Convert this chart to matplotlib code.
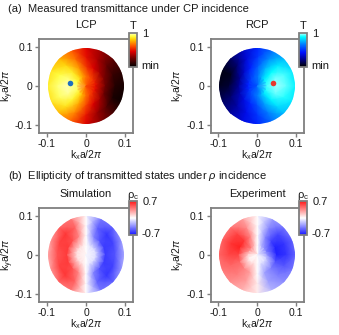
import numpy as np
import matplotlib
matplotlib.use("Agg")
import matplotlib.pyplot as plt
from matplotlib.colors import LinearSegmentedColormap
from matplotlib.patches import Circle

plt.rcParams['font.family'] = ['Liberation Sans', 'DejaVu Sans']
plt.rcParams['mathtext.fontset'] = 'custom'
plt.rcParams['mathtext.rm'] = 'Liberation Sans'
plt.rcParams['mathtext.it'] = 'Liberation Sans:italic'

# ---------------- data ----------------
angles_deg = [0, 22.5, 45, 67.5, 90, 112.5, 135, 157.5, 180,
              202.5, 225, 247.5, 270, 292.5, 315, 337.5]
radii = [0.0, 0.025, 0.05, 0.075, 0.1]

# normalised transmittance (0 = min, 1 = max), rows = radii, cols = angles
lcp_T = [
    [0.62] * 16,
    [0.48, 0.50, 0.55, 0.60, 0.66, 0.74, 0.84, 0.90, 0.93, 0.92, 0.86, 0.76, 0.66, 0.58, 0.52, 0.48],
    [0.24, 0.27, 0.34, 0.44, 0.55, 0.72, 0.86, 0.94, 0.98, 0.96, 0.88, 0.74, 0.58, 0.44, 0.34, 0.24],
    [0.08, 0.12, 0.22, 0.36, 0.48, 0.66, 0.82, 0.90, 0.93, 0.92, 0.84, 0.68, 0.49, 0.33, 0.18, 0.06],
    [0.05, 0.10, 0.20, 0.33, 0.45, 0.62, 0.76, 0.84, 0.86, 0.84, 0.76, 0.62, 0.44, 0.29, 0.15, 0.03],
]
rcp_T = [
    [0.60] * 16,
    [0.92, 0.90, 0.84, 0.74, 0.64, 0.58, 0.52, 0.47, 0.45, 0.48, 0.54, 0.60, 0.66, 0.74, 0.84, 0.90],
    [0.97, 0.95, 0.88, 0.74, 0.58, 0.45, 0.32, 0.22, 0.22, 0.28, 0.36, 0.46, 0.56, 0.72, 0.86, 0.94],
    [0.93, 0.92, 0.84, 0.68, 0.50, 0.35, 0.17, 0.05, 0.08, 0.17, 0.26, 0.38, 0.50, 0.66, 0.82, 0.90],
    [0.86, 0.84, 0.76, 0.62, 0.46, 0.31, 0.14, 0.03, 0.05, 0.14, 0.24, 0.36, 0.46, 0.62, 0.76, 0.84],
]
sim_rho = [
    [0.0] * 16,
    [-0.10, -0.10, -0.10, -0.08, 0.0, 0.08, 0.10, 0.10, 0.10, 0.10, 0.10, 0.08, 0.0, -0.08, -0.10, -0.10],
    [-0.58, -0.58, -0.52, -0.36, 0.0, 0.36, 0.52, 0.58, 0.58, 0.58, 0.52, 0.36, 0.0, -0.36, -0.52, -0.58],
    [-0.50, -0.56, -0.60, -0.46, 0.0, 0.46, 0.60, 0.56, 0.50, 0.56, 0.60, 0.46, 0.0, -0.46, -0.60, -0.56],
    [-0.22, -0.28, -0.45, -0.40, 0.0, 0.40, 0.45, 0.28, 0.22, 0.28, 0.45, 0.40, 0.0, -0.40, -0.45, -0.28],
]
exp_rho = [
    [0.0] * 16,
    [-0.30, -0.38, -0.32, -0.22, 0.0, 0.22, 0.38, 0.32, 0.15, 0.05, 0.05, 0.10, 0.0, -0.10, -0.10, -0.15],
    [-0.66, -0.66, -0.56, -0.34, 0.0, 0.38, 0.60, 0.66, 0.56, 0.45, 0.38, 0.28, 0.0, -0.28, -0.38, -0.50],
    [-0.60, -0.60, -0.55, -0.34, 0.0, 0.34, 0.56, 0.60, 0.55, 0.45, 0.38, 0.28, 0.05, -0.28, -0.38, -0.50],
    [-0.45, -0.45, -0.40, -0.28, 0.0, 0.28, 0.40, 0.45, 0.45, 0.40, 0.33, 0.22, 0.05, -0.22, -0.33, -0.40],
]
lcp_dot = (-0.04, 0.008)
rcp_dot = (0.04, 0.008)
ticks = [-0.1, 0.0, 0.1]
tick_labels = ['-0.1', '0', '0.1']

# ---------------- colormaps ----------------
cmap_lcp = LinearSegmentedColormap.from_list('lcp', [
    (0.0, '#000000'), (0.25, '#700000'), (0.45, '#e00000'), (0.62, '#ff5a00'),
    (0.8, '#ffcc00'), (0.9, '#ffff40'), (1.0, '#ffffd0')])
cmap_rcp = LinearSegmentedColormap.from_list('rcp', [
    (0.0, '#000000'), (0.22, '#000090'), (0.42, '#0010ff'), (0.65, '#0078ff'),
    (0.88, '#00ffff'), (1.0, '#d0ffff')])
cmap_rho = LinearSegmentedColormap.from_list('rho', ['#1414ff', '#ffffff', '#ff1414'])

GRAY = '#7f7f7f'
TXT = '#1a1a1a'

W, H = 339, 335
fig = plt.figure(figsize=(W / 100, H / 100), dpi=100)


def fr(x0, y0, x1, y1):
    return [x0 / W, 1 - y1 / H, (x1 - x0) / W, (y1 - y0) / H]


def polar_map(ax, values, cmap, vmin, vmax):
    th = np.deg2rad(np.append(angles_deg, 360.0))
    R, T = np.meshgrid(radii, th, indexing='ij')
    C = np.array(values, dtype=float)
    C = np.hstack([C, C[:, :1]])
    X = R * np.cos(T)
    Y = R * np.sin(T)
    m = ax.pcolormesh(X, Y, C, shading='gouraud', cmap=cmap, vmin=vmin, vmax=vmax)
    step = np.deg2rad(angles_deg[1] - angles_deg[0])
    clip = Circle((0, 0), radii[-1] * np.cos(step / 2), transform=ax.transData)
    m.set_clip_path(clip)
    return m


def style_axes(ax, title):
    ax.set_xlim(-0.12, 0.12)
    ax.set_ylim(-0.12, 0.12)
    ax.set_aspect('auto')
    ax.set_xticks(ticks)
    ax.set_yticks(ticks)
    ax.set_xticklabels(tick_labels)
    ax.set_yticklabels(tick_labels)
    for s in ax.spines.values():
        s.set_color(GRAY)
        s.set_linewidth(1.3)
    ax.tick_params(direction='out', length=3, width=1.0, color=GRAY,
                   labelsize=7.5, labelcolor=TXT, pad=1.5)
    ax.set_xlabel(r'k$_\mathrm{x}$a/2$\pi$', fontsize=7.5, color=TXT)
    ax.set_ylabel(r'k$_\mathrm{y}$a/2$\pi$', fontsize=7.5, color=TXT)
    ax.xaxis.set_label_coords(0.5, -0.165)
    ax.yaxis.set_label_coords(-0.25, 0.5)
    ax.set_title(title, fontsize=8, color=TXT, pad=8)


def colorbar(mappable, rect, top_label, hi, lo):
    cax = fig.add_axes(rect)
    cb = fig.colorbar(mappable, cax=cax)
    cb.set_ticks([])
    cb.outline.set_edgecolor(GRAY)
    cb.outline.set_linewidth(1.3)
    cax.text(0.5, 1.1, top_label, transform=cax.transAxes, ha='center', va='baseline',
             fontsize=8, color=TXT)
    cax.text(1.6, 0.97, hi, transform=cax.transAxes, ha='left', va='center',
             fontsize=8, color=TXT)
    cax.text(1.5, 0.03, lo, transform=cax.transAxes, ha='left', va='center',
             fontsize=8, color=TXT)
    return cb


# panel (a)
ax1 = fig.add_axes(fr(39, 39, 133, 133))
m1 = polar_map(ax1, lcp_T, cmap_lcp, 0, 1)
ax1.plot(*lcp_dot, 'o', color='#1f6fbf', ms=4, mec='none')
style_axes(ax1, 'LCP')
colorbar(m1, fr(129, 32.7, 137.3, 66.7), 'T', '1', 'min')

ax2 = fig.add_axes(fr(210.7, 39, 304, 133))
m2 = polar_map(ax2, rcp_T, cmap_rcp, 0, 1)
ax2.plot(*rcp_dot, 'o', color='#e8382c', ms=4, mec='none')
style_axes(ax2, 'RCP')
colorbar(m2, fr(299, 32.7, 307.3, 66.7), 'T', '1', 'min')

# panel (b)
ax3 = fig.add_axes(fr(39, 207.7, 133, 301.7))
m3 = polar_map(ax3, sim_rho, cmap_rho, -0.7, 0.7)
style_axes(ax3, 'Simulation')
colorbar(m3, fr(129, 201, 137.3, 235), r'ρ$_\mathrm{c}$', '0.7', '-0.7')

ax4 = fig.add_axes(fr(210.7, 207.7, 304, 301.7))
m4 = polar_map(ax4, exp_rho, cmap_rho, -0.7, 0.7)
style_axes(ax4, 'Experiment')
colorbar(m4, fr(299, 201, 307.3, 235), r'ρ$_\mathrm{c}$', '0.7', '-0.7')

fig.text(7.5 / W, 1 - 9 / H, '(a)  Measured transmittance under CP incidence',
         fontsize=8, color=TXT, ha='left', va='center')
fig.text(7.5 / W, 1 - 176 / H, r'(b)  Ellipticity of transmitted states under $\rho$ incidence',
         fontsize=8, color=TXT, ha='left', va='center')

fig.savefig('out.png', dpi=100)
